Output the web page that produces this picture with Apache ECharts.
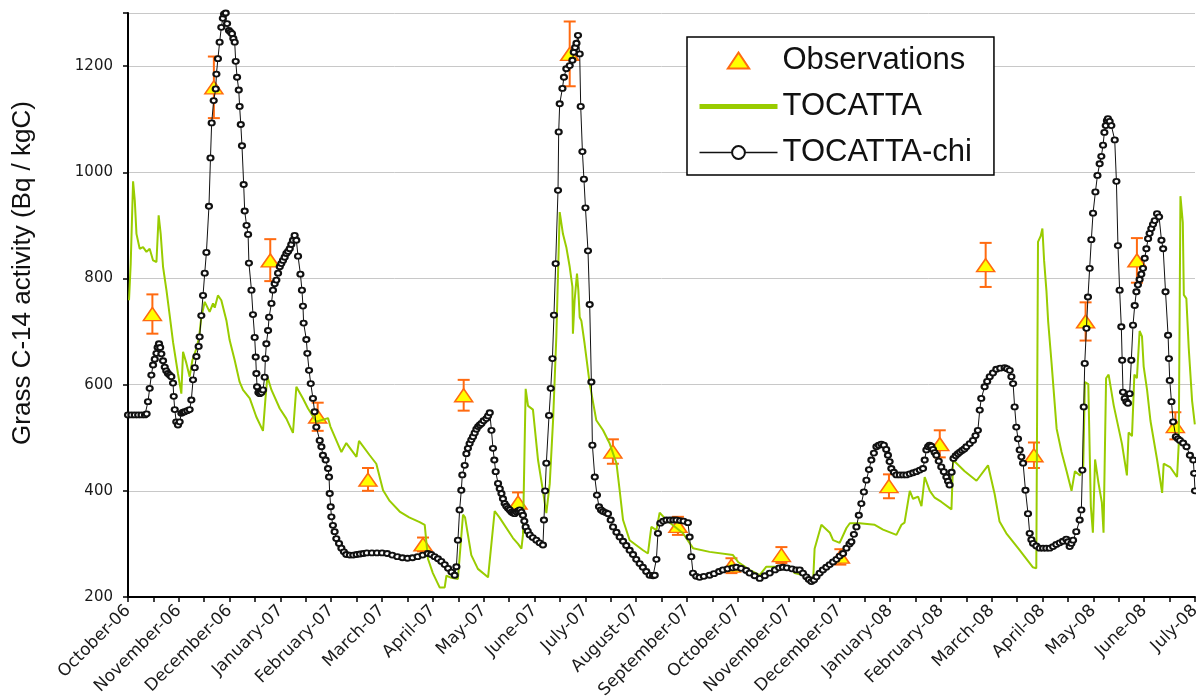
<!DOCTYPE html>
<html><head><meta charset="utf-8">
<script src="https://cdn.jsdelivr.net/npm/echarts/dist/echarts.min.js"></script>
<style>html,body{margin:0;padding:0;background:#fff}#c{width:1196px;height:697px}</style>
</head><body><div id="c"></div>
<script>
// x = day index from 1 Oct 2006 on a 630-day axis (15-day ticks, month labels every 30)
const monthLabels = ['October-06','November-06','December-06','January-07','February-07','March-07','April-07','May-07','June-07','July-07','August-07','September-07','October-07','November-07','December-07','January-08','February-08','March-08','April-08','May-08','June-08','July-08'];
const yTicks = [200, 400, 600, 800, 1000, 1200];

const obsDays   = [14.4, 50.7, 84, 112, 141.7, 174.2, 198.2, 230.3, 260.8, 286.3, 324.7, 356.3, 385.8, 420.6, 449.3, 479.3, 506.4, 534.9, 565.4, 595.7, 618.4];
const obsValues = [733, 1160, 834, 540, 421, 299, 580, 378, 1223, 474, 334, 259, 279, 276, 409, 488, 825, 467, 719, 834, 522];
const obsLow    = [696, 1102, 795, 513, 400, 286, 551, 358, 1162, 451, 317, 245, 264, 261, 386, 463, 784, 443, 683, 792, 497];
const obsHigh   = [770, 1218, 874, 566, 443, 312, 609, 397, 1284, 497, 351, 273, 294, 290, 431, 514, 867, 491, 755, 876, 548];

const tocatta = [[0.6,759],[1.6,828],[3,983],[4,947],[5,884],[6.9,856],[8.9,859],[10.9,850],[12.8,856],[14.8,834],[16.8,831],[18.1,919],[19.3,884],[20.7,822],[22.7,778],[24.6,731],[26.6,680],[29.5,621],[31.5,583],[32.5,662],[34.5,640],[36.4,615],[38,646],[40.4,668],[42,690],[43.3,727],[45.3,756],[48.2,737],[50.2,753],[51.2,745],[53.1,768],[55.1,759],[58.1,721],[60,684],[63,646],[65.9,605],[67.9,590],[71.9,574],[75.8,539],[79.7,513],[81.1,571],[82.3,615],[84.7,590],[89.6,555],[93.5,536],[97.4,509],[99.4,596],[103.3,574],[106.3,555],[111.2,530],[112.2,527],[118.1,537],[119.5,521],[126,473],[128.9,490],[134.9,464],[136.4,494],[142.7,467],[146.6,451],[150.6,401],[154.5,381],[160.4,361],[166,350],[172.2,341],[175.2,336],[177.1,272],[180,245],[184,218],[187,218],[188,240],[191,236],[194.8,234],[197.8,355],[199,350],[202.7,279],[206.6,253],[212.6,237],[216.5,362],[219.5,349],[227.3,311],[230.3,300],[232.3,291],[233.2,317],[234.8,592],[236.2,560],[239.1,553],[242.1,458],[245,400],[247,358],[249,413],[251,534],[252.9,690],[254.9,925],[256.8,884],[258.8,859],[260.8,822],[262.4,784],[262.7,696],[263.7,759],[265.1,809],[265.9,778],[266.7,727],[267.7,720],[269.6,677],[272.6,602],[276.5,533],[280.5,514],[284.4,489],[288.4,452],[290.3,401],[292.3,345],[296.2,307],[304.1,288],[307,282],[309,332],[312,326],[313.9,359],[317.9,345],[327.7,320],[333.6,292],[343.4,285],[357.2,279],[360.2,266],[367,251],[373,241],[376.9,257],[384.8,257],[390.7,258],[393.6,245],[400,240],[404.5,228],[405.4,291],[409.4,336],[414.4,321],[416.3,307],[420.2,302],[424.2,330],[426.2,339],[432,339],[440.9,336],[445.8,327],[453.7,317],[456.7,336],[458.5,340],[461.6,400],[463.5,385],[466.5,389],[468.5,371],[470.4,426],[473.4,400],[476.3,387],[480.3,379],[486.2,365],[487.2,458],[488.1,458],[494,437],[501,419],[507.8,448],[511.7,394],[514.6,342],[518.6,320],[526,290],[534.3,256],[536.3,254],[537.3,869],[538.9,880],[539.9,894],[540.9,834],[542.3,776],[543.3,719],[545.3,641],[548.3,517],[551.2,473],[554.2,437],[557.1,400],[559.1,437],[562.1,429],[564,444],[565,605],[567,601],[568.5,371],[569.7,321],[571,459],[573,415],[575,378],[576,321],[577.5,612],[579,619],[582,561],[586.9,488],[589.8,429],[590.8,510],[592.8,503],[594.2,619],[595.7,612],[597.3,701],[598.7,691],[599.7,634],[601.7,590],[603.7,532],[607.6,459],[610.6,396],[611.5,451],[615.5,444],[619.4,426],[620.4,488],[621.4,955],[622.8,905],[623.4,769],[624.9,762],[626.3,669],[628.3,569],[629.9,525]];

const tocattaChi = [[0,543],[2,543],[4,543],[6,543],[8,543],[10,543],[11,545],[11.8,568],[12.8,593],[13.8,618],[14.8,637],[15.8,648],[16.8,659],[17.5,670],[18.3,677],[19,670],[19.7,658],[20.7,645],[21.7,633],[22.6,626],[23.6,621],[24.6,618],[25.6,615],[26.6,603],[27,578],[27.6,553],[28.5,530],[29.5,524],[30.5,530],[31.5,546],[32.5,548],[33.5,549],[35,551],[36.4,553],[37.4,571],[38.4,609],[39.4,632],[40.4,653],[41.7,672],[42.3,690],[43.3,730],[44.3,768],[45.3,810],[46.3,849],[47.8,936],[48.7,1027],[49.4,1093],[50.6,1135],[51.8,1157],[52.2,1185],[53.1,1214],[54.1,1245],[55.1,1273],[56,1290],[56.7,1298],[57.7,1300],[58.5,1280],[59.6,1267],[60.5,1264],[61.4,1261],[62.2,1252],[63,1245],[63.6,1209],[64.4,1179],[65.4,1155],[65.9,1124],[66.6,1090],[67.3,1050],[68.3,977],[68.9,927],[70,900],[70.9,883],[71.4,829],[72.9,778],[73.8,732],[74.8,689],[75.4,652],[75.8,621],[76.2,596],[77,585],[77.8,583],[78.8,585],[79.7,590],[80.7,614],[81.1,649],[81.7,677],[82.7,702],[83.3,727],[84.7,753],[85.6,778],[86.6,790],[87.6,797],[88.6,810],[89.6,822],[90.5,828],[91.5,834],[92.5,840],[93.5,847],[94.5,851],[95.5,856],[96.4,864],[97.4,872],[98.4,881],[99.4,872],[100.4,842],[101.8,808],[102.7,778],[103.3,748],[103.7,716],[105.3,685],[105.9,659],[106.9,627],[107.9,602],[109.2,574],[110.2,549],[111.2,520],[113.2,495],[114.2,483],[115.1,467],[116.7,458],[118.1,442],[118.7,426],[119.1,395],[119.7,370],[120.1,351],[121,335],[122,323],[123,310],[124.6,301],[126,292],[127.5,285],[128.9,280],[131,279],[133,279],[135,280],[137,281],[139,282],[141,283],[144,283],[147,283],[150,283],[153,282],[156,279],[159,276],[162,274],[165,273],[168,274],[171,276],[174,279],[177,282],[179,280],[181,276],[183,272],[185,267],[187,261],[189,254],[191,247],[192.9,241],[193.9,257],[194.8,307],[195.8,364],[196.8,401],[197.4,430],[198.8,448],[199.8,470],[200.7,480],[201.7,489],[202.7,496],[203.7,502],[204.7,509],[205.7,516],[206.7,521],[207.7,524],[208.7,527],[210,532],[211.6,536],[212.6,541],[213.6,547],[214.6,514],[215.5,480],[216.3,458],[217.1,436],[218.5,414],[219.5,404],[220.5,395],[221.4,385],[222.4,376],[223.4,371],[224.4,367],[225.4,364],[226.4,360],[227.3,358],[228.3,357],[229.3,360],[230.3,362],[231.3,364],[232.3,360],[233.2,354],[234,343],[234.8,332],[236,324],[237.2,317],[239,312],[241.1,307],[243,302],[245,298],[245.6,345],[246.3,400],[247,452],[248.6,542],[249.6,593],[250.6,649],[251.5,731],[252.5,828],[253.9,966],[254.3,1076],[254.9,1129],[256.5,1158],[257.4,1179],[258.8,1195],[260.8,1201],[262.4,1211],[263.2,1226],[264,1235],[264.8,1243],[265.7,1258],[266.7,1223],[267.3,1124],[268.3,1039],[269.2,987],[270.1,933],[271.6,852],[272.6,751],[273.6,605],[274.2,486],[275.6,426],[276.9,392],[278.1,370],[279.3,364],[280.5,361],[282,359],[283.4,357],[285,345],[286.4,332],[288.4,322],[290.3,313],[292.3,305],[294.2,297],[296.2,288],[298.2,280],[300.1,271],[302.1,263],[304,256],[306,248],[308,241],[310,240],[311,241],[312,271],[312.9,320],[314.3,339],[316,343],[317.9,345],[320,345],[322,345],[323.8,345],[326,344],[328,343],[330.6,340],[331.6,313],[332.6,276],[333.6,245],[335.5,239],[337.5,237],[340,239],[343.4,241],[346,244],[349,248],[351.3,251],[354,253],[357,255],[359.2,256],[362,254],[365,250],[367,245],[370,240],[373,235],[376,240],[378.9,245],[382,251],[384.5,255],[386.7,256],[389,255],[392,253],[394.6,251],[396.6,251],[398.5,245],[400.5,238],[402,233],[403.5,229],[405,232],[406.5,238],[408.4,245],[410.3,251],[412.3,256],[414.3,261],[416.3,266],[418.3,271],[420.2,277],[422.2,282],[424.2,292],[426,300],[427.1,304],[428.6,318],[430.1,332],[431.5,354],[433,376],[434.5,398],[436,420],[437.5,440],[438.9,458],[440.4,471],[441.9,483],[443.3,486],[444.8,488],[446.3,486],[447.7,478],[448.7,467],[449.7,455],[450.7,442],[452.2,435],[453.7,430],[455.7,430],[457.7,430],[459.6,430],[461.6,432],[463.6,434],[465.5,436],[467.5,439],[469.4,442],[470.4,458],[471.4,477],[472.4,483],[473.3,486],[474.3,484],[475.3,478],[476.3,472],[477.3,467],[478.7,456],[480.2,445],[481.7,436],[483.2,426],[484.2,418],[485.1,411],[486.3,435],[487.4,461],[488.7,466],[490,470],[491.2,473],[492.5,476],[493.8,479],[495,483],[497,489],[498.9,495],[500.4,504],[501.8,514],[502.9,552],[503.8,574],[505.8,596],[507.3,606],[508.8,615],[510.7,622],[512.7,629],[515,631],[517.6,632],[519,630],[520.6,627],[521.6,615],[522.6,602],[523.5,558],[524.5,520],[525.5,498],[526.5,477],[527.5,464],[528.5,452],[529.9,401],[531.4,357],[532.4,320],[533.4,308],[534.4,301],[536.3,296],[538.3,292],[540.3,292],[542.2,292],[544.2,292],[546.2,295],[548.1,299],[550.1,302],[552,305],[554,309],[555,304],[556,295],[557,301],[558,307],[559.9,323],[561.9,345],[562.9,364],[563.5,439],[564.3,558],[564.9,640],[565.9,706],[566.8,765],[567.8,819],[568.8,873],[569.8,923],[571.2,963],[572.4,994],[573.7,1016],[574.7,1030],[575.7,1051],[576.5,1075],[577.3,1088],[578,1097],[578.6,1101],[579.6,1096],[580.6,1088],[582.6,1061],[583.6,983],[584.5,862],[585.5,778],[586.5,709],[587,646],[587.5,586],[588.5,574],[589.5,568],[590.4,565],[591.4,583],[592.4,646],[593.4,712],[594.4,749],[595.4,775],[596.3,788],[597.3,798],[598.3,808],[599.3,819],[600.3,838],[601.3,856],[602.3,875],[603.2,885],[604.2,894],[605.2,902],[606.2,909],[607.6,922],[608.8,916],[610.2,872],[611.2,856],[612.6,775],[614.1,693],[614.6,649],[615.1,608],[616.1,568],[617.1,530],[618.7,502],[619.9,498],[621.1,495],[623,490],[625,483],[627,467],[629,458],[629.5,433],[630,400]];

const chart = echarts.init(document.getElementById('c'), null, {renderer: 'canvas'});
const txt = '#1a1a1a';
chart.setOption({
  animation: false,
  backgroundColor: '#ffffff',
  grid: {left: 128, right: 1, top: 13, bottom: 100, containLabel: false, outerBoundsMode: 'none'},
  xAxis: {
    type: 'value', min: 0, max: 630, interval: 15,
    axisLine: {show: true, onZero: false, lineStyle: {color: '#000', width: 2}},
    axisTick: {show: true, length: 5, lineStyle: {color: '#000', width: 1.5}},
    splitLine: {show: false},
    axisLabel: {
      rotate: 45, margin: 11, fontFamily: 'DejaVu Sans', fontSize: 17, color: txt,
      showMinLabel: true, showMaxLabel: true,
      formatter: v => (Math.round(v) % 30 === 0 ? monthLabels[Math.round(v) / 30] : '')
    }
  },
  yAxis: {
    type: 'value', min: 200, max: 1300, interval: 200,
    axisLine: {show: true, lineStyle: {color: '#000', width: 2}},
    axisTick: {show: true, length: 5, lineStyle: {color: '#000', width: 1.5}},
    splitLine: {show: true, lineStyle: {color: '#c8c8c8', width: 1}},
    axisLabel: {
      margin: 15, fontFamily: 'DejaVu Sans', fontSize: 15, color: txt,
      formatter: v => (yTicks.indexOf(v) >= 0 ? String(v) : '')
    }
  },
  legend: {
    left: 687, top: 37, orient: 'vertical',
    padding: [8, 22, 7, 10], itemGap: 15, itemWidth: 78, itemHeight: 16,
    borderColor: '#000', borderWidth: 1.5, backgroundColor: '#fff', borderRadius: 0,
    textStyle: {fontFamily: 'Liberation Sans', fontSize: 31, color: '#111', lineHeight: 30},
    data: [
      {name: 'Observations', icon: 'path://M0,18 L12,0 L24,18 Z'},
      {name: 'TOCATTA', lineStyle: {width: 5}, itemStyle: {opacity: 0}},
      {name: 'TOCATTA-chi', lineStyle: {width: 1.5}}
    ]
  },
  graphic: [{
    type: 'text', x: 23, y: 273, rotation: Math.PI / 2,
    style: {text: 'Grass C-14 activity (Bq / kgC)', fontFamily: 'Liberation Sans', fontSize: 26,
            fill: '#111', textAlign: 'center', textVerticalAlign: 'middle', align: 'center', verticalAlign: 'middle'}
  }],
  series: [
    {
      name: 'errorbars', type: 'custom', z: 2, silent: true,
      data: obsDays.map((d, i) => [d, obsLow[i], obsHigh[i]]),
      encode: {x: 0, y: [1, 2]},
      renderItem: (params, api) => {
        const lo = api.coord([api.value(0), api.value(1)]);
        const hi = api.coord([api.value(0), api.value(2)]);
        const hw = 6, st = {stroke: '#ff6a10', lineWidth: 2};
        return {type: 'group', children: [
          {type: 'line', shape: {x1: lo[0], y1: lo[1], x2: hi[0], y2: hi[1]}, style: st},
          {type: 'line', shape: {x1: lo[0] - hw, y1: lo[1], x2: lo[0] + hw, y2: lo[1]}, style: st},
          {type: 'line', shape: {x1: hi[0] - hw, y1: hi[1], x2: hi[0] + hw, y2: hi[1]}, style: st}
        ]};
      }
    },
    {
      name: 'Observations', type: 'scatter', z: 3,
      data: obsDays.map((d, i) => [d, obsValues[i]]),
      symbol: 'triangle', symbolSize: [18, 13],
      itemStyle: {color: '#ffff00', borderColor: '#ff6a10', borderWidth: 1.5, opacity: 1}
    },
    {
      name: 'TOCATTA', type: 'line', z: 4, data: tocatta,
      symbol: 'none', lineStyle: {color: '#99cc00', width: 2}, itemStyle: {color: '#99cc00'}
    },
    {
      name: 'TOCATTA-chi', type: 'line', z: 5, data: tocattaChi,
      symbol: 'emptyCircle', symbolSize: [6, 5], showSymbol: true, showAllSymbol: true,
      lineStyle: {color: '#111', width: 1}, itemStyle: {color: '#111', borderColor: '#111', borderWidth: 0.9}
    }
  ]
});
</script></body></html>
